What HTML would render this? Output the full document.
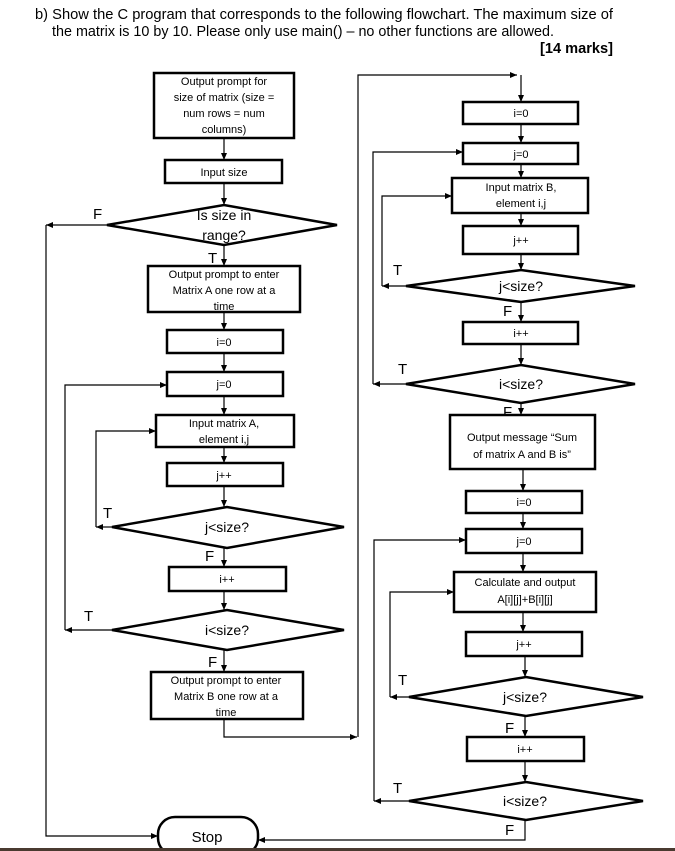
<!DOCTYPE html>
<html><head><meta charset="utf-8"><style>
html,body{margin:0;padding:0;background:#fff;}
svg{display:block;}
text{font-family:"Liberation Sans Narrow","Liberation Sans",sans-serif;fill:#000;}
.t{font-size:11px;text-anchor:middle;}
.d{font-size:14px;text-anchor:middle;}
.l{font-size:15px;}
.b{fill:#fff;stroke:#000;stroke-width:2.5;}
.c{fill:none;stroke:#000;stroke-width:1.2;}
</style></head><body>
<svg width="675" height="851" viewBox="0 0 675 851" xmlns="http://www.w3.org/2000/svg">
<defs><marker id="a" markerWidth="8" markerHeight="8" refX="7" refY="4" orient="auto" markerUnits="userSpaceOnUse"><path d="M0,1 L7,4 L0,7 z" fill="#000"/></marker></defs>
<text x="35" y="19" font-size="15" textLength="578" lengthAdjust="spacingAndGlyphs">b) Show the C program that corresponds to the following flowchart. The maximum size of</text>
<text x="52" y="36" font-size="15" textLength="502" lengthAdjust="spacingAndGlyphs">the matrix is 10 by 10. Please only use main() – no other functions are allowed.</text>
<text x="540" y="53" font-size="15" font-weight="bold" textLength="73" lengthAdjust="spacingAndGlyphs">[14 marks]</text>

<!-- left column connectors -->
<g class="c">
<path d="M224,138 V160" marker-end="url(#a)"/>
<path d="M224,183 V205" marker-end="url(#a)"/>
<path d="M224,245 V266" marker-end="url(#a)"/>
<path d="M224,312 V330" marker-end="url(#a)"/>
<path d="M224,353 V372" marker-end="url(#a)"/>
<path d="M224,396 V415" marker-end="url(#a)"/>
<path d="M224,447 V463" marker-end="url(#a)"/>
<path d="M224,486 V507" marker-end="url(#a)"/>
<path d="M224,548 V567" marker-end="url(#a)"/>
<path d="M224,591 V610" marker-end="url(#a)"/>
<path d="M224,650 V672" marker-end="url(#a)"/>
<path d="M107,225 H46" marker-end="url(#a)"/>
<path d="M46,225 V836 H158" marker-end="url(#a)"/>
<path d="M112,527 H96" marker-end="url(#a)"/>
<path d="M96,527 V431 H156" marker-end="url(#a)"/>
<path d="M112,630 H65" marker-end="url(#a)"/>
<path d="M65,630 V385 H167" marker-end="url(#a)"/>
<path d="M224,719 V737 H357" marker-end="url(#a)"/>
<path d="M358,737 V75 H517" marker-end="url(#a)"/>
<path d="M521,75 V102" marker-end="url(#a)"/>
<!-- right -->
<path d="M521,124 V143" marker-end="url(#a)"/>
<path d="M521,164 V178" marker-end="url(#a)"/>
<path d="M521,213 V226" marker-end="url(#a)"/>
<path d="M521,254 V270" marker-end="url(#a)"/>
<path d="M521,302 V322" marker-end="url(#a)"/>
<path d="M521,344 V365" marker-end="url(#a)"/>
<path d="M521,403 V415" marker-end="url(#a)"/>
<path d="M406,286 H382" marker-end="url(#a)"/>
<path d="M382,286 V196 H452" marker-end="url(#a)"/>
<path d="M406,384 H373" marker-end="url(#a)"/>
<path d="M373,384 V152 H463" marker-end="url(#a)"/>
<path d="M523,469 V491" marker-end="url(#a)"/>
<path d="M523,513 V529" marker-end="url(#a)"/>
<path d="M523,553 V572" marker-end="url(#a)"/>
<path d="M523,612 V632" marker-end="url(#a)"/>
<path d="M525,656 V677" marker-end="url(#a)"/>
<path d="M525,716 V737" marker-end="url(#a)"/>
<path d="M525,761 V782" marker-end="url(#a)"/>
<path d="M409,697 H390" marker-end="url(#a)"/>
<path d="M390,697 V592 H454" marker-end="url(#a)"/>
<path d="M409,801 H374" marker-end="url(#a)"/>
<path d="M374,801 V540 H466" marker-end="url(#a)"/>
<path d="M525,820 V840 H258" marker-end="url(#a)"/>
</g>

<!-- left shapes -->
<rect class="b" x="154" y="73" width="140" height="65"/>
<text class="t" x="224" y="85">Output prompt for</text>
<text class="t" x="224" y="101">size of matrix (size =</text>
<text class="t" x="224" y="117">num rows = num</text>
<text class="t" x="224" y="133">columns)</text>
<rect class="b" x="165" y="160" width="117" height="23"/>
<text class="t" x="224" y="176">Input size</text>
<polygon class="b" points="107,225 224,205 337,225 224,245"/>
<text class="d" x="224" y="220">Is size in</text>
<text class="d" x="224" y="240">range?</text>
<text class="l" x="93" y="219">F</text>
<text class="l" x="208" y="263">T</text>
<rect class="b" x="148" y="266" width="152" height="46"/>
<text class="t" x="224" y="278">Output prompt to enter</text>
<text class="t" x="224" y="294">Matrix A one row at a</text>
<text class="t" x="224" y="310">time</text>
<rect class="b" x="167" y="330" width="116" height="23"/>
<text class="t" x="224" y="346">i=0</text>
<rect class="b" x="167" y="372" width="116" height="24"/>
<text class="t" x="224" y="388">j=0</text>
<rect class="b" x="156" y="415" width="138" height="32"/>
<text class="t" x="224" y="427">Input matrix A,</text>
<text class="t" x="224" y="443">element i,j</text>
<rect class="b" x="167" y="463" width="116" height="23"/>
<text class="t" x="224" y="479">j++</text>
<polygon class="b" points="112,527 227,507 344,527 227,548"/>
<text class="d" x="227" y="532">j&lt;size?</text>
<text class="l" x="103" y="518">T</text>
<text class="l" x="205" y="561">F</text>
<rect class="b" x="169" y="567" width="117" height="24"/>
<text class="t" x="227" y="583">i++</text>
<polygon class="b" points="112,630 227,610 344,630 227,650"/>
<text class="d" x="227" y="635">i&lt;size?</text>
<text class="l" x="84" y="621">T</text>
<text class="l" x="208" y="667">F</text>
<rect class="b" x="151" y="672" width="152" height="47"/>
<text class="t" x="226" y="684">Output prompt to enter</text>
<text class="t" x="226" y="700">Matrix B one row at a</text>
<text class="t" x="226" y="716">time</text>

<!-- right shapes -->
<rect class="b" x="463" y="102" width="115" height="22"/>
<text class="t" x="521" y="117">i=0</text>
<rect class="b" x="463" y="143" width="115" height="21"/>
<text class="t" x="521" y="158">j=0</text>
<rect class="b" x="452" y="178" width="136" height="35"/>
<text class="t" x="521" y="191">Input matrix B,</text>
<text class="t" x="521" y="207">element i,j</text>
<rect class="b" x="463" y="226" width="115" height="28"/>
<text class="t" x="521" y="244">j++</text>
<polygon class="b" points="406,286 521,270 635,286 521,302"/>
<text class="d" x="521" y="291">j&lt;size?</text>
<text class="l" x="393" y="275">T</text>
<text class="l" x="503" y="316">F</text>
<rect class="b" x="463" y="322" width="115" height="22"/>
<text class="t" x="521" y="337">i++</text>
<polygon class="b" points="406,384 521,365 635,384 521,403"/>
<text class="d" x="521" y="389">i&lt;size?</text>
<text class="l" x="398" y="374">T</text>
<text class="l" x="503" y="417">F</text>
<rect class="b" x="450" y="415" width="145" height="54"/>
<text class="t" x="522" y="441">Output message “Sum</text>
<text class="t" x="522" y="458">of matrix A and B is”</text>
<rect class="b" x="466" y="491" width="116" height="22"/>
<text class="t" x="524" y="506">i=0</text>
<rect class="b" x="466" y="529" width="116" height="24"/>
<text class="t" x="524" y="545">j=0</text>
<rect class="b" x="454" y="572" width="142" height="40"/>
<text class="t" x="525" y="586">Calculate and output</text>
<text class="t" x="525" y="603">A[i][j]+B[i][j]</text>
<rect class="b" x="466" y="632" width="116" height="24"/>
<text class="t" x="524" y="648">j++</text>
<polygon class="b" points="409,697 526,677 643,697 526,716"/>
<text class="d" x="525" y="702">j&lt;size?</text>
<text class="l" x="398" y="685">T</text>
<text class="l" x="505" y="733">F</text>
<rect class="b" x="467" y="737" width="117" height="24"/>
<text class="t" x="525" y="753">i++</text>
<polygon class="b" points="409,801 526,782 643,801 526,820"/>
<text class="d" x="525" y="806">i&lt;size?</text>
<text class="l" x="393" y="793">T</text>
<text class="l" x="505" y="835">F</text>

<rect class="b" x="158" y="817" width="100" height="38" rx="17"/>
<text x="207" y="842" font-size="15" text-anchor="middle">Stop</text>
<rect x="0" y="848" width="675" height="3" fill="#4a3a30"/>
</svg>
</body></html>
